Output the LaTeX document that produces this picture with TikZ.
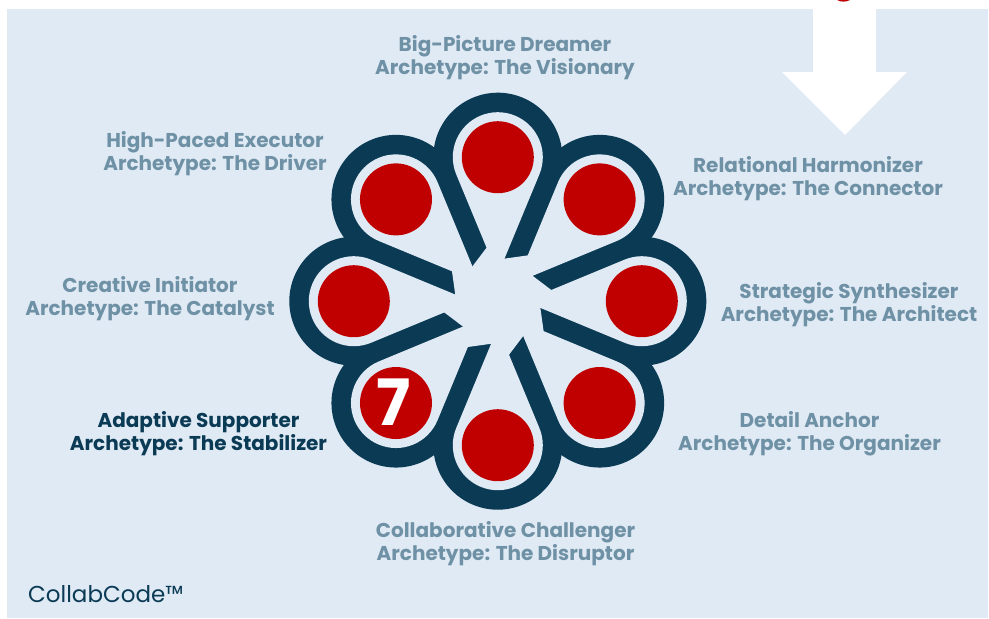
\documentclass[tikz,border=0pt]{standalone}
\usepackage{fontspec}
\setmainfont{Poppins}
\usepackage{tikz}

\definecolor{bgblue}{HTML}{DFEAF4}
\definecolor{ringnavy}{HTML}{0B3A55}
\definecolor{dotred}{HTML}{C00000}
\definecolor{labelgrey}{HTML}{6F91A5}

\tikzset{
    archetype/.style={font=\bfseries\fontsize{20}{23}\selectfont, text=labelgrey, align=center, inner sep=0pt},
    ring/.style={fill=ringnavy},
    hole/.style={fill=bgblue},
    dot/.style={fill=dotred}
}

\begin{document}
\begin{tikzpicture}[x=1pt, y=-1pt]
    \useasboundingbox (0,0) rectangle (989,619);
    \fill [white] (0,0) rectangle (989,619);
    \fill [bgblue] (7,9) rectangle (988,618);

    % arrow at the top right
    \fill [white] (813,0) -- (876,0) -- (876,72) -- (907,72) -- (845,135) -- (782,72) -- (813,72) -- cycle;
    \fill [dotred] (837,0) .. controls (841,2.2) and (846,2.2) .. (850,0) -- cycle;

    \begin{scope}[shift={(497.8,301.2)}, y=1pt]
    % dark drops
    \fill [ring] (90:144) ++(-22.5:64.5) arc[start angle=-22.5, end angle=202.5, radius=64.5] -- (270:24.5) -- cycle;
    \fill [ring] (45:144) ++(-67.5:64.5) arc[start angle=-67.5, end angle=157.5, radius=64.5] -- (225:24.5) -- cycle;
    \fill [ring] (0:144) ++(-112.5:64.5) arc[start angle=-112.5, end angle=112.5, radius=64.5] -- (180:24.5) -- cycle;
    \fill [ring] (-45:144) ++(-157.5:64.5) arc[start angle=-157.5, end angle=67.5, radius=64.5] -- (135:24.5) -- cycle;
    \fill [ring] (-90:144) ++(-202.5:64.5) arc[start angle=-202.5, end angle=22.5, radius=64.5] -- (90:24.5) -- cycle;
    \fill [ring] (-135:144) ++(-247.5:64.5) arc[start angle=-247.5, end angle=-22.5, radius=64.5] -- (45:24.5) -- cycle;
    \fill [ring] (180:144) ++(67.5:64.5) arc[start angle=67.5, end angle=292.5, radius=64.5] -- (0:24.5) -- cycle;
    \fill [ring] (135:144) ++(22.5:64.5) arc[start angle=22.5, end angle=247.5, radius=64.5] -- (315:24.5) -- cycle;

    % light drops
    \fill [hole] (90:144) ++(-22.5:45) arc[start angle=-22.5, end angle=202.5, radius=45] -- (90:26.4) -- cycle;
    \fill [hole] (45:144) ++(-67.5:45) arc[start angle=-67.5, end angle=157.5, radius=45] -- (45:26.4) -- cycle;
    \fill [hole] (0:144) ++(-112.5:45) arc[start angle=-112.5, end angle=112.5, radius=45] -- (0:26.4) -- cycle;
    \fill [hole] (-45:144) ++(-157.5:45) arc[start angle=-157.5, end angle=67.5, radius=45] -- (-45:26.4) -- cycle;
    \fill [hole] (-90:144) ++(-202.5:45) arc[start angle=-202.5, end angle=22.5, radius=45] -- (-90:26.4) -- cycle;
    \fill [hole] (-135:144) ++(-247.5:45) arc[start angle=-247.5, end angle=-22.5, radius=45] -- (-135:26.4) -- cycle;
    \fill [hole] (180:144) ++(67.5:45) arc[start angle=67.5, end angle=292.5, radius=45] -- (180:26.4) -- cycle;
    \fill [hole] (135:144) ++(22.5:45) arc[start angle=22.5, end angle=247.5, radius=45] -- (135:26.4) -- cycle;

    % open middle
    \fill [hole] (11.5:55) -- (36.5:43) -- (56.5:55) -- (81.5:43) -- (101.5:55) -- (126.5:43)
        -- (146.5:55) -- (171.5:43) -- (191.5:55) -- (216.5:43) -- (236.5:55) -- (261.5:43)
        -- (281.5:55) -- (306.5:43) -- (326.5:55) -- (351.5:43) -- cycle;

    % red dots
    \fill [dot] (90:144) circle (36);
    \fill [dot] (45:144) circle (36);
    \fill [dot] (0:144) circle (36);
    \fill [dot] (-45:144) circle (36);
    \fill [dot] (-90:144) circle (36);
    \fill [dot] (-135:144) circle (36);
    \fill [dot] (180:144) circle (36);
    \fill [dot] (135:144) circle (36);
    \end{scope}

    \node (seven) at (394,402) [font=\bfseries\fontsize{64}{64}\selectfont, text=white, inner sep=0pt] {7};

    \node (visionary) at (505,58) [archetype] {Big-Picture Dreamer\\Archetype: The Visionary};
    \node (driver) at (215,153.5) [archetype] {High-Paced Executor\\Archetype: The Driver};
    \node (connector) at (808,179) [archetype] {Relational Harmonizer\\Archetype: The Connector};
    \node (catalyst) at (150,299) [archetype] {Creative Initiator\\Archetype: The Catalyst};
    \node (architect) at (849,305) [archetype] {Strategic Synthesizer\\Archetype: The Architect};
    \node (stabilizer) at (198.5,434) [archetype, text=ringnavy] {Adaptive Supporter\\Archetype: The Stabilizer};
    \node (organizer) at (809.5,434) [archetype] {Detail Anchor\\Archetype: The Organizer};
    \node (disruptor) at (505.5,544) [archetype] {Collaborative Challenger\\Archetype: The Disruptor};

    \node (brand) at (28,594) [anchor=west, inner sep=0pt, text=ringnavy, font=\fontsize{23}{23}\selectfont] {CollabCode™};
\end{tikzpicture}
\end{document}
